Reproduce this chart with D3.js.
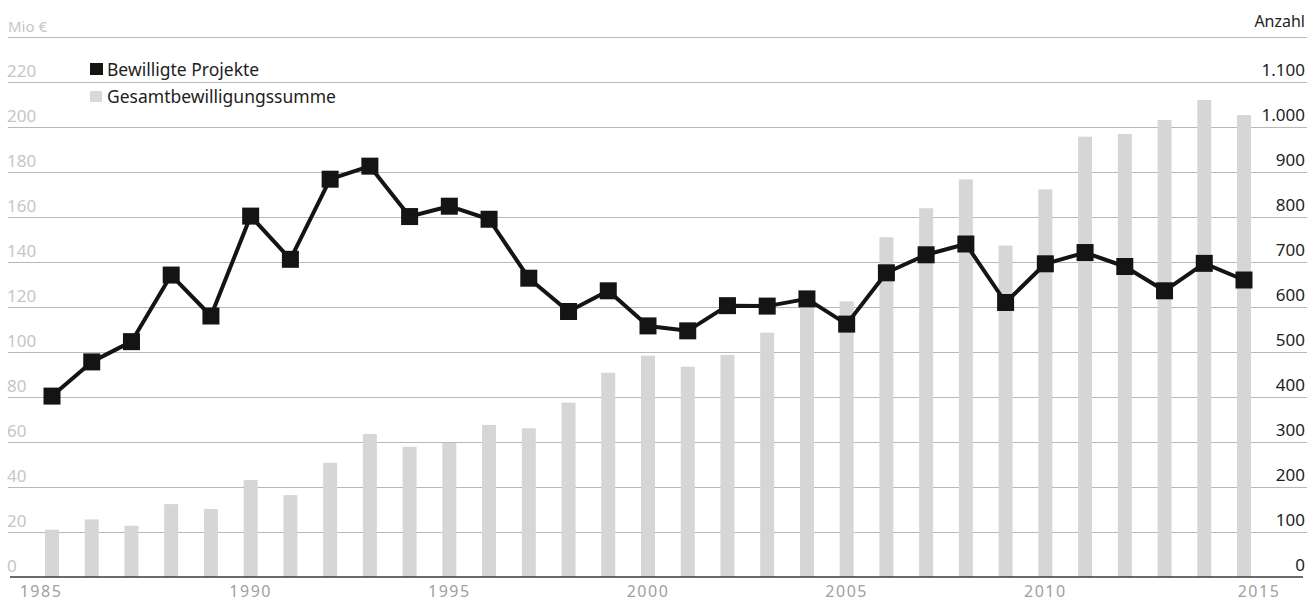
<!DOCTYPE html>
<html>
<head>
<meta charset="utf-8">
<script src="https://cdn.jsdelivr.net/npm/d3@7"></script>
<style>
  html, body { margin: 0; padding: 0; background: #fff; }
  svg { display: block; }
  text { font-family: "Noto Sans", "Open Sans", sans-serif; }
</style>
</head>
<body>
<svg id="chart" width="1307" height="602"></svg>
<script>
// Data
var years = d3.range(1985, 2016);
var summe = [21, 25.6, 22.8, 32.4, 30.2, 43.1, 36.4, 50.8, 63.6, 57.9,
             59.6, 67.6, 66.1, 77.5, 90.8, 98.4, 93.5, 98.7, 108.6, 120.1,
             122.5, 151, 163.9, 176.7, 147.3, 172.3, 195.7, 196.9, 203.1, 212, 205.3];
var projekte = [402, 478, 523, 671, 580, 802, 706, 884, 913, 801,
                824, 795, 664, 590, 636, 558, 547, 603, 602, 618,
                562, 676, 716, 740, 610, 696, 721, 690, 636, 697, 660];
var leftTicks = d3.range(0, 240, 20);
var rightTicks = d3.range(0, 1200, 100);
var xTicks = [1985, 1990, 1995, 2000, 2005, 2010, 2015];
var legendLabels = ["Bewilligte Projekte", "Gesamtbewilligungssumme"];

window.onload = function() {

  var width = 1307,
      height = 602,
      svg = d3.select("#chart"),
      de = d3.formatLocale({decimal: ",", thousands: ".", grouping: [3], currency: ["", " €"]}),
      fmt = de.format(",");

  // Scales: left in Mio €, right in Anzahl, both share the same pixel range
  var x = d3.scaleLinear().domain([1985, 2015]).range([52, 1244]),
      yL = d3.scaleLinear().domain([0, 240]).range([577, 37]),
      yR = d3.scaleLinear().domain([0, 1200]).range([577, 37]);

  // Grid lines
  svg.append("g")
    .selectAll("line")
    .data(d3.range(20, 260, 20))
    .enter().append("line")
      .attr("x1", 8)
      .attr("x2", width)
      .attr("y1", function(d) { return yL(d) + 0.5; })
      .attr("y2", function(d) { return yL(d) + 0.5; })
      .attr("stroke", "#b8b8b8")
      .attr("stroke-width", 1);

  // Bars
  svg.append("g")
    .selectAll("rect")
    .data(summe)
    .enter().append("rect")
      .attr("x", function(d, i) { return x(years[i]) - 7; })
      .attr("y", function(d) { return yL(d); })
      .attr("width", 14)
      .attr("height", function(d) { return yL(0) - yL(d); })
      .attr("fill", "#d6d6d6");

  // Baseline
  svg.append("line")
    .attr("x1", 10).attr("x2", width - 4)
    .attr("y1", yL(0)).attr("y2", yL(0))
    .attr("stroke", "#3a3a3a")
    .attr("stroke-width", 1.5);

  // Left axis labels
  svg.append("g")
    .selectAll("text")
    .data(leftTicks)
    .enter().append("text")
      .attr("x", 7)
      .attr("y", function(d) { return yL(d) - 5; })
      .attr("font-size", 17)
      .attr("fill", "#c6c6c6")
      .text(function(d) { return d; });

  svg.append("text")
    .attr("x", 8).attr("y", 32)
    .attr("font-size", 15)
    .attr("fill", "#c6c6c6")
    .text("Mio €");

  // Right axis labels
  svg.append("g")
    .selectAll("text")
    .data(rightTicks)
    .enter().append("text")
      .attr("x", 1305)
      .attr("y", function(d) { return yR(d) - 6; })
      .attr("text-anchor", "end")
      .attr("font-size", 17)
      .attr("fill", "#1e1e1e")
      .text(function(d) { return fmt(d); });

  svg.append("text")
    .attr("x", 1305).attr("y", 27)
    .attr("text-anchor", "end")
    .attr("font-size", 16)
    .attr("fill", "#1e1e1e")
    .text("Anzahl");

  // X axis labels
  svg.append("g")
    .selectAll("text")
    .data(xTicks)
    .enter().append("text")
      .attr("x", function(d) { return x(d) + (d === 1985 ? -11 : d === 2015 ? 15 : 0); })
      .attr("y", 597)
      .attr("text-anchor", "middle")
      .attr("font-size", 16)
      .attr("letter-spacing", 1.5)
      .attr("fill", "#a0a0a0")
      .text(function(d) { return d; });

  // Line with square markers
  var line = d3.line()
    .x(function(d, i) { return x(years[i]); })
    .y(function(d) { return yR(d); });

  svg.append("path")
    .datum(projekte)
    .attr("d", line)
    .attr("fill", "none")
    .attr("stroke", "#141414")
    .attr("stroke-width", 4)
    .attr("stroke-linejoin", "round");

  svg.append("g")
    .selectAll("rect")
    .data(projekte)
    .enter().append("rect")
      .attr("x", function(d, i) { return x(years[i]) - 8.5; })
      .attr("y", function(d) { return yR(d) - 8.5; })
      .attr("width", 17)
      .attr("height", 17)
      .attr("fill", "#141414");

  // Legend
  var legend = svg.append("g").attr("transform", "translate(90,63)");
  legend.append("rect")
    .attr("x", 0).attr("y", 0).attr("width", 13).attr("height", 12)
    .attr("fill", "#141414");
  legend.append("text")
    .attr("x", 17).attr("y", 12.5)
    .attr("font-size", 17.5)
    .attr("fill", "#1e1e1e")
    .text(legendLabels[0]);
  legend.append("rect")
    .attr("x", 0).attr("y", 28).attr("width", 12).attr("height", 11)
    .attr("fill", "#d9d9d9");
  legend.append("text")
    .attr("x", 17).attr("y", 39.5)
    .attr("font-size", 17.5)
    .attr("fill", "#1e1e1e")
    .text(legendLabels[1]);
}
</script>
</body>
</html>
